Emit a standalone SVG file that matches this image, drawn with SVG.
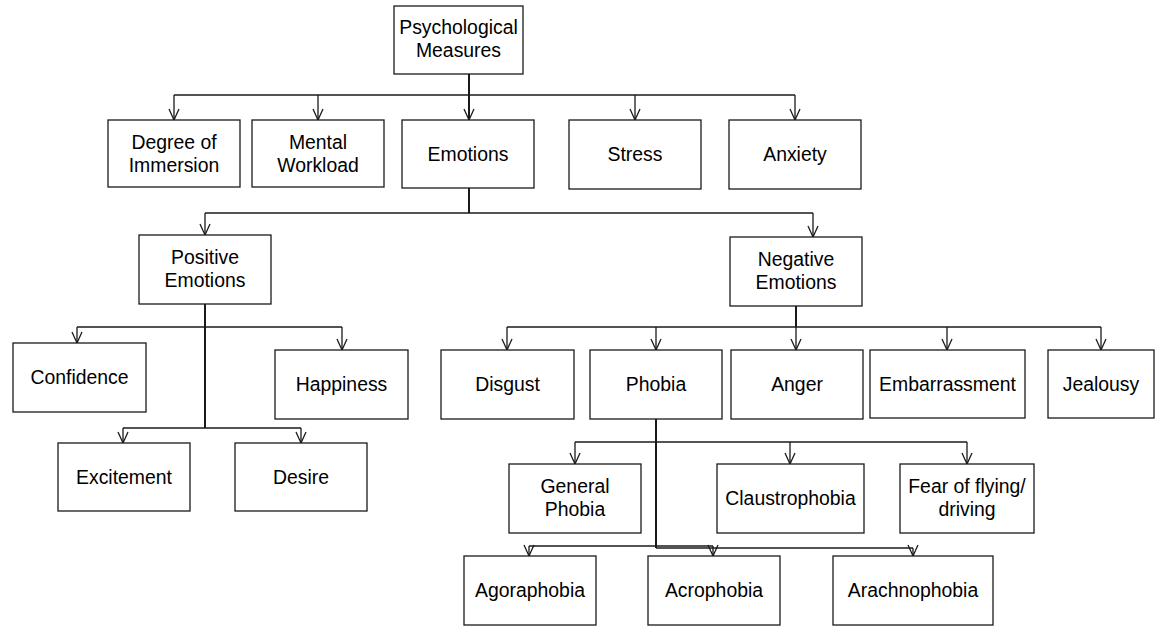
<svg xmlns="http://www.w3.org/2000/svg" width="1156" height="628" viewBox="0 0 1156 628">
<style>
.box{fill:#fff;stroke:#1a1a1a;stroke-width:1.3}
.t{font-family:"Liberation Sans",Arial,sans-serif;font-size:19.4px;fill:#000;text-anchor:middle}
.c{fill:none;stroke:#1a1a1a;stroke-width:1.3}
.a{marker-end:url(#arr)}
.trunk{stroke-width:2}
</style>
<defs>
<marker id="arr" markerUnits="userSpaceOnUse" markerWidth="16" markerHeight="14" viewBox="-13 -7 14 14" refX="0" refY="0" orient="auto">
<path d="M-11,-5 L0,0 L-11,5" fill="none" stroke="#1a1a1a" stroke-width="1.3"/>
</marker>
</defs>
<rect width="1156" height="628" fill="#fff"/>
<g id="connectors">
<path class="c trunk" d="M469,74 V95"/>
<path class="c" d="M174,95 H795"/>
<path class="c a" d="M174,95 V120"/>
<path class="c a" d="M318,95 V120"/>
<path class="c a trunk" d="M469,95 V120"/>
<path class="c a" d="M635,95 V120"/>
<path class="c a" d="M795,95 V120"/>
<path class="c trunk" d="M469,188 V213"/>
<path class="c" d="M205,213 H813"/>
<path class="c a" d="M205,213 V235"/>
<path class="c a" d="M813,213 V237"/>
<path class="c trunk" d="M205,304 V428"/>
<path class="c" d="M77,327 H342"/>
<path class="c a" d="M77,327 V343"/>
<path class="c a" d="M342,327 V350"/>
<path class="c" d="M123,428 H301"/>
<path class="c a" d="M123,428 V443"/>
<path class="c a" d="M301,428 V443"/>
<path class="c trunk" d="M796,306 V327"/>
<path class="c" d="M507,327 H1101"/>
<path class="c a" d="M507,327 V350"/>
<path class="c a" d="M656,327 V350"/>
<path class="c a" d="M796,327 V350"/>
<path class="c a" d="M947,327 V350"/>
<path class="c a" d="M1101,327 V350"/>
<path class="c trunk" d="M656,419 V548"/>
<path class="c" d="M575,442 H967"/>
<path class="c a" d="M575,442 V464"/>
<path class="c a" d="M790,442 V464"/>
<path class="c a" d="M967,442 V464"/>
<path class="c" d="M529,546 H713"/>
<path class="c a" d="M529,546 V556"/>
<path class="c a" d="M713,546 V556"/>
<path class="c" d="M656,548 H913"/>
<path class="c a" d="M913,548 V556"/>
</g>
<g id="psychological-measures"><rect class="box" x="394" y="6" width="129" height="68"/><text class="t" x="458.5" y="34">Psychological</text><text class="t" x="458.5" y="57">Measures</text></g>
<g id="degree-of-immersion"><rect class="box" x="108" y="120" width="132" height="67"/><text class="t" x="174" y="149">Degree of</text><text class="t" x="174" y="172">Immersion</text></g>
<g id="mental-workload"><rect class="box" x="252" y="120" width="132" height="67"/><text class="t" x="318" y="149">Mental</text><text class="t" x="318" y="172">Workload</text></g>
<g id="emotions"><rect class="box" x="402" y="120" width="132" height="68"/><text class="t" x="468" y="161">Emotions</text></g>
<g id="stress"><rect class="box" x="569" y="120" width="132" height="69"/><text class="t" x="635" y="161">Stress</text></g>
<g id="anxiety"><rect class="box" x="729" y="120" width="132" height="69"/><text class="t" x="795" y="161">Anxiety</text></g>
<g id="positive-emotions"><rect class="box" x="139" y="235" width="132" height="69"/><text class="t" x="205" y="264">Positive</text><text class="t" x="205" y="287">Emotions</text></g>
<g id="negative-emotions"><rect class="box" x="730" y="237" width="132" height="69"/><text class="t" x="796" y="266">Negative</text><text class="t" x="796" y="289">Emotions</text></g>
<g id="confidence"><rect class="box" x="13" y="343" width="133" height="69"/><text class="t" x="79.5" y="384">Confidence</text></g>
<g id="happiness"><rect class="box" x="275" y="350" width="133" height="69"/><text class="t" x="341.5" y="391">Happiness</text></g>
<g id="excitement"><rect class="box" x="58" y="443" width="132" height="68"/><text class="t" x="124" y="484">Excitement</text></g>
<g id="desire"><rect class="box" x="235" y="443" width="132" height="68"/><text class="t" x="301" y="484">Desire</text></g>
<g id="disgust"><rect class="box" x="441" y="350" width="133" height="69"/><text class="t" x="507.5" y="391">Disgust</text></g>
<g id="phobia"><rect class="box" x="590" y="350" width="132" height="69"/><text class="t" x="656" y="391">Phobia</text></g>
<g id="anger"><rect class="box" x="731" y="350" width="132" height="69"/><text class="t" x="797" y="391">Anger</text></g>
<g id="embarrassment"><rect class="box" x="870" y="350" width="155" height="68"/><text class="t" x="947.5" y="391">Embarrassment</text></g>
<g id="jealousy"><rect class="box" x="1048" y="350" width="106" height="68"/><text class="t" x="1101" y="391">Jealousy</text></g>
<g id="general-phobia"><rect class="box" x="509" y="464" width="132" height="69"/><text class="t" x="575" y="493">General</text><text class="t" x="575" y="516">Phobia</text></g>
<g id="claustrophobia"><rect class="box" x="717" y="464" width="147" height="69"/><text class="t" x="790.5" y="505">Claustrophobia</text></g>
<g id="fear-of-flying-driving"><rect class="box" x="900" y="464" width="134" height="69"/><text class="t" x="967" y="493">Fear of flying/</text><text class="t" x="967" y="516">driving</text></g>
<g id="agoraphobia"><rect class="box" x="464" y="556" width="132" height="69"/><text class="t" x="530" y="597">Agoraphobia</text></g>
<g id="acrophobia"><rect class="box" x="648" y="556" width="132" height="69"/><text class="t" x="714" y="597">Acrophobia</text></g>
<g id="arachnophobia"><rect class="box" x="833" y="556" width="160" height="69"/><text class="t" x="913" y="597">Arachnophobia</text></g>
</svg>
